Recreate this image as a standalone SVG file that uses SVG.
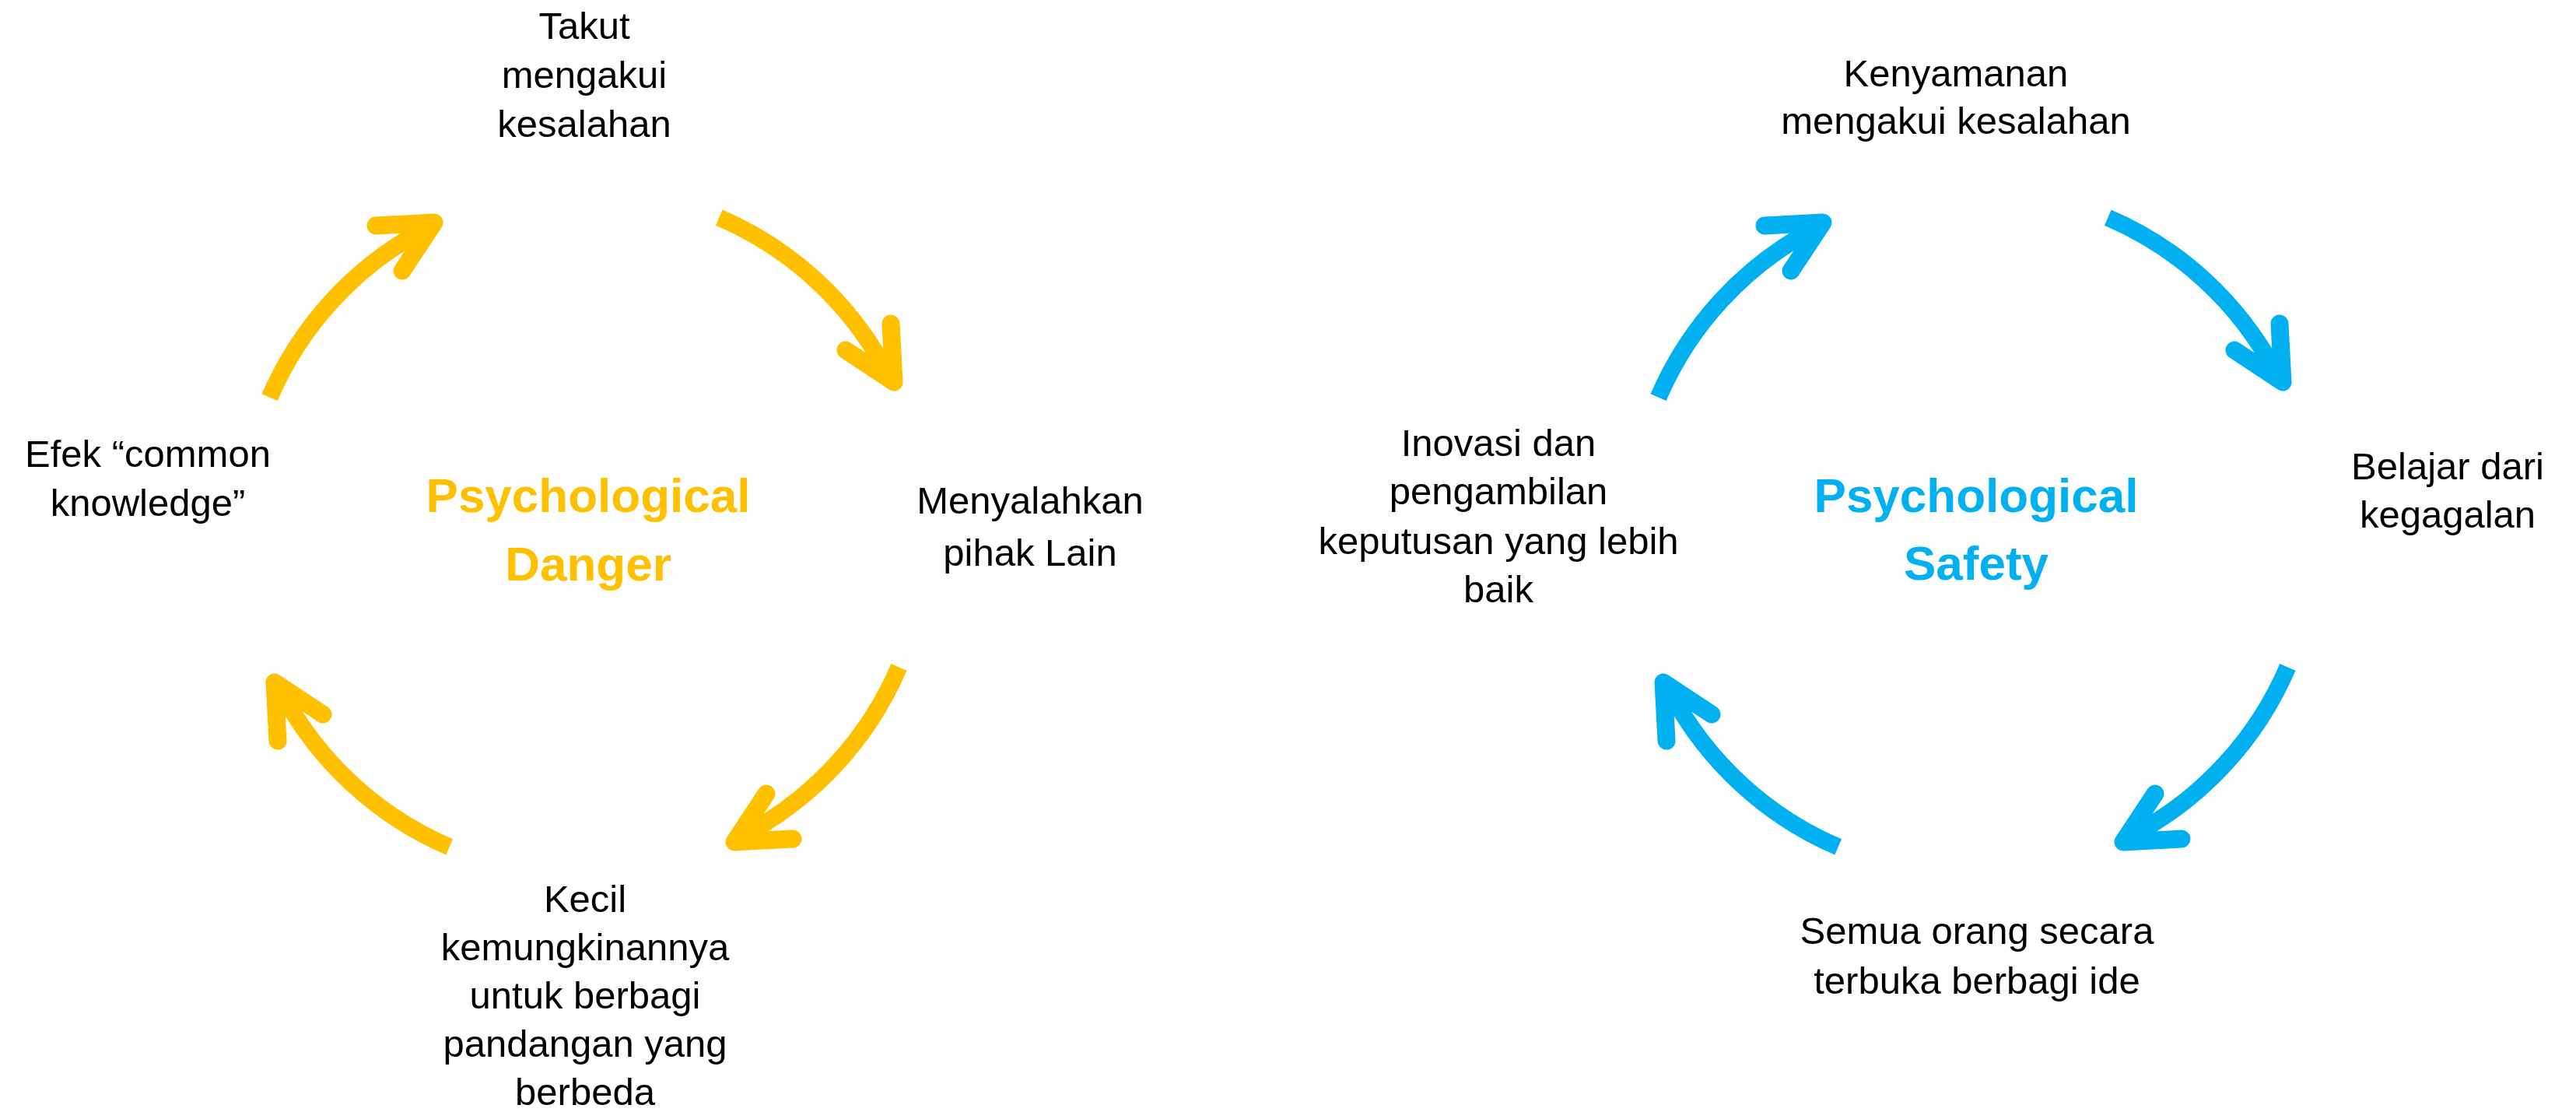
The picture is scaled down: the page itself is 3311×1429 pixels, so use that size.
<svg xmlns="http://www.w3.org/2000/svg" xmlns:xlink="http://www.w3.org/1999/xlink" width="3311" height="1429" viewBox="0 0 3311 1429">
  <style>
    .lbl { font-family: "Liberation Sans", Arial, sans-serif; font-size: 49px; fill: #000000; text-anchor: middle; }
    .ttl { font-family: "Liberation Sans", Arial, sans-serif; font-size: 62px; font-weight: bold; text-anchor: middle; }
    .danger { fill: #FFC000; }
    .safety { fill: #00B0F0; }
    .shaft { fill: none; stroke-width: 22; stroke-linecap: butt; }
    .head { fill: none; stroke-width: 23; stroke-linecap: round; stroke-linejoin: round; }
  </style>
  <defs>
    <g id="arc-arrow">
      <path class="shaft" d="M -404.4,-173.3 A 440 440 0 0 1 -206.6,-388.5"/>
      <path class="head" d="M -268,-394 L -193,-398 L -234,-336"/>
    </g>
  </defs>
  <rect width="3311" height="1429" fill="#ffffff"/>

  <g id="connectors">
    <g id="danger-arrows" stroke="#FFC000">
      <use xlink:href="#arc-arrow" transform="translate(751,684) rotate(0)"/>
      <use xlink:href="#arc-arrow" transform="translate(751,684) rotate(90)"/>
      <use xlink:href="#arc-arrow" transform="translate(751,684) rotate(180)"/>
      <use xlink:href="#arc-arrow" transform="translate(751,684) rotate(270)"/>
    </g>
    <g id="safety-arrows" stroke="#00B0F0">
      <use xlink:href="#arc-arrow" transform="translate(2536,684) rotate(0)"/>
      <use xlink:href="#arc-arrow" transform="translate(2536,684) rotate(90)"/>
      <use xlink:href="#arc-arrow" transform="translate(2536,684) rotate(180)"/>
      <use xlink:href="#arc-arrow" transform="translate(2536,684) rotate(270)"/>
    </g>
  </g>

  <!-- Psychological Danger cycle -->
  <g id="danger-center">
    <text class="ttl danger" x="756" y="658">Psychological</text>
    <text class="ttl danger" x="756" y="746">Danger</text>
  </g>
  <g id="takut">
    <text class="lbl" x="751" y="50">Takut</text>
    <text class="lbl" x="751" y="113">mengakui</text>
    <text class="lbl" x="751" y="176">kesalahan</text>
  </g>
  <g id="menyalahkan">
    <text class="lbl" x="1324" y="660">Menyalahkan</text>
    <text class="lbl" x="1324" y="727">pihak Lain</text>
  </g>
  <g id="kecil">
    <text class="lbl" x="752" y="1172">Kecil</text>
    <text class="lbl" x="752" y="1234">kemungkinannya</text>
    <text class="lbl" x="752" y="1296">untuk berbagi</text>
    <text class="lbl" x="752" y="1358">pandangan yang</text>
    <text class="lbl" x="752" y="1420">berbeda</text>
  </g>
  <g id="efek">
    <text class="lbl" x="190" y="600">Efek “common</text>
    <text class="lbl" x="190" y="663">knowledge”</text>
  </g>

  <!-- Psychological Safety cycle -->
  <g id="safety-center">
    <text class="ttl safety" x="2540" y="658">Psychological</text>
    <text class="ttl safety" x="2540" y="745">Safety</text>
  </g>
  <g id="kenyamanan">
    <text class="lbl" x="2514" y="111">Kenyamanan</text>
    <text class="lbl" x="2514" y="172">mengakui kesalahan</text>
  </g>
  <g id="belajar">
    <text class="lbl" x="3146" y="616">Belajar dari</text>
    <text class="lbl" x="3146" y="678">kegagalan</text>
  </g>
  <g id="semua">
    <text class="lbl" x="2541" y="1213">Semua orang secara</text>
    <text class="lbl" x="2541" y="1277">terbuka berbagi ide</text>
  </g>
  <g id="inovasi">
    <text class="lbl" x="1926" y="586">Inovasi dan</text>
    <text class="lbl" x="1926" y="648">pengambilan</text>
    <text class="lbl" x="1926" y="712">keputusan yang lebih</text>
    <text class="lbl" x="1926" y="774">baik</text>
  </g>
</svg>
